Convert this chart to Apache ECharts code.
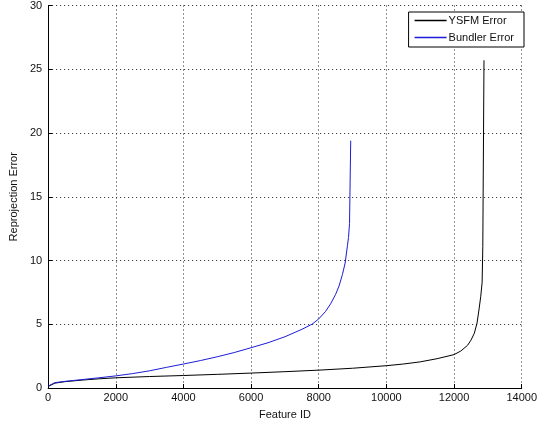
<!DOCTYPE html>
<html>
<head>
<meta charset="utf-8">
<script src="https://cdn.jsdelivr.net/npm/echarts@6/dist/echarts.min.js"></script>
<style>
  html, body { margin: 0; padding: 0; background: #fff; }
  #chart { width: 540px; height: 426px; }
</style>
</head>
<body>
<div id="chart"></div>
<script>
// values
const ysfmX = [0, 50, 200, 500, 1000, 1500, 2000, 3000, 4000, 5000, 6000, 7000, 8000, 9000, 10000, 10500, 11000, 11500, 12000, 12200, 12400, 12500, 12600, 12680, 12740, 12790, 12830, 12850, 12875, 12885];
const ysfmY = [0.12, 0.25, 0.38, 0.5, 0.62, 0.72, 0.8, 0.9, 0.98, 1.07, 1.17, 1.28, 1.4, 1.55, 1.75, 1.88, 2.05, 2.3, 2.62, 2.9, 3.35, 3.75, 4.3, 5.1, 6.2, 7.2, 8.3, 11.1, 11.2, 25.7];
const bundlerX = [0, 50, 200, 500, 1000, 1500, 2000, 2500, 3000, 3500, 4000, 4500, 5000, 5500, 6000, 6500, 7000, 7500, 7800, 8000, 8200, 8350, 8500, 8600, 8700, 8780, 8850, 8880, 8910, 8940, 8945];
const bundlerY = [0.15, 0.3, 0.42, 0.52, 0.66, 0.8, 0.95, 1.13, 1.35, 1.62, 1.88, 2.15, 2.45, 2.78, 3.16, 3.55, 4.02, 4.6, 5.0, 5.42, 6.0, 6.6, 7.35, 8.0, 8.9, 9.8, 11.2, 11.8, 12.9, 13.0, 19.4];
const xTicks = { min: 0, max: 14000, step: 2000 };
const yTicks = { min: 0, max: 30, step: 5 };

const pairs = (xs, ys) => xs.map((x, i) => [x, ys[i]]);

const chart = echarts.init(document.getElementById('chart'), null, { renderer: 'canvas' });

const font = 'Liberation Sans';
const dotted = { show: true, lineStyle: { color: '#222', type: [1, 3], width: 1 } };
const blue = '#1c1cd8';

chart.setOption({
  animation: false,
  backgroundColor: '#fff',
  color: ['#000', blue],
  textStyle: { fontFamily: font },
  grid: { left: 38, right: 14, top: 5, bottom: 38, containLabel: false },
  legend: {
    orient: 'vertical',
    right: 16,
    top: 12,
    data: [
      { name: 'YSFM Error', itemStyle: { color: '#000', borderWidth: 0 } },
      { name: 'Bundler Error', itemStyle: { color: blue, borderWidth: 0 } }
    ],
    icon: 'rect',
    itemWidth: 32,
    itemHeight: 1.5,
    itemGap: 6,
    padding: [3, 10, 4, 6],
    backgroundColor: '#fff',
    borderColor: '#000',
    borderWidth: 1,
    textStyle: { fontFamily: font, fontSize: 11, color: '#111', padding: [0, 0, 0, -3] }
  },
  xAxis: {
    type: 'value',
    min: xTicks.min,
    max: xTicks.max,
    interval: xTicks.step,
    name: 'Feature ID',
    nameLocation: 'middle',
    nameGap: 21,
    nameTextStyle: { fontFamily: font, fontSize: 11, color: '#111' },
    axisLine: { show: true, lineStyle: { color: '#000', width: 1 } },
    axisTick: { show: true, inside: true, length: 4, lineStyle: { color: '#000' } },
    axisLabel: { fontFamily: font, fontSize: 11, color: '#111', margin: 4, formatter: (v) => String(v) },
    splitLine: dotted
  },
  yAxis: {
    type: 'value',
    min: yTicks.min,
    max: yTicks.max,
    interval: yTicks.step,
    name: 'Reprojection Error',
    nameLocation: 'middle',
    nameGap: 25,
    nameTextStyle: { fontFamily: font, fontSize: 11, color: '#111' },
    axisLine: { show: true, lineStyle: { color: '#000', width: 1 } },
    axisTick: { show: true, inside: true, length: 4, lineStyle: { color: '#000' } },
    axisLabel: { fontFamily: font, fontSize: 11, color: '#111', margin: 6 },
    splitLine: dotted
  },
  series: [
    {
      name: 'YSFM Error',
      type: 'line',
      data: pairs(ysfmX, ysfmY),
      showSymbol: false,
      symbol: 'none',
      itemStyle: { color: '#000' },
      lineStyle: { color: '#000', width: 1 }
    },
    {
      name: 'Bundler Error',
      type: 'line',
      data: pairs(bundlerX, bundlerY),
      showSymbol: false,
      symbol: 'none',
      itemStyle: { color: blue },
      lineStyle: { color: blue, width: 1 }
    }
  ]
});
</script>
</body>
</html>
